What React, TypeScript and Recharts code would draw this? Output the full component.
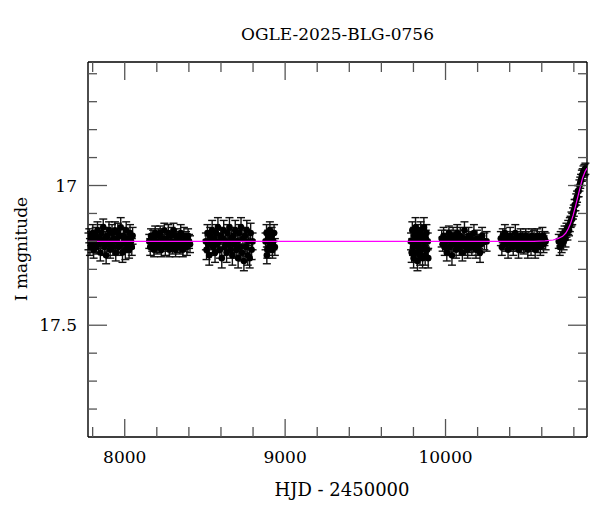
import React from "react";
import { ComposedChart, Scatter, XAxis, YAxis, ErrorBar } from "recharts";

const FONT = "'DejaVu Serif', 'Liberation Serif', serif";

// [HJD-2450000, I mag, error] per observing season
const season1 = [
  [7774, 17.2, 0.03], [7779, 17.18, 0.025], [7783, 17.22, 0.03], [7790, 17.19, 0.025], [7794, 17.21, 0.03],
  [7801, 17.17, 0.03], [7806, 17.23, 0.03], [7812, 17.2, 0.025], [7819, 17.18, 0.03], [7823, 17.22, 0.025],
  [7830, 17.16, 0.03], [7837, 17.21, 0.03], [7841, 17.19, 0.025], [7848, 17.24, 0.03], [7855, 17.17, 0.03],
  [7860, 17.2, 0.025], [7866, 17.15, 0.03], [7873, 17.22, 0.03], [7879, 17.19, 0.025], [7884, 17.25, 0.03],
  [7891, 17.18, 0.03], [7897, 17.21, 0.025], [7902, 17.16, 0.03], [7909, 17.23, 0.03], [7915, 17.2, 0.025],
  [7921, 17.17, 0.03], [7926, 17.22, 0.03], [7933, 17.19, 0.025], [7939, 17.16, 0.03], [7944, 17.24, 0.03],
  [7950, 17.2, 0.025], [7957, 17.17, 0.035], [7962, 17.22, 0.03], [7968, 17.18, 0.025], [7975, 17.15, 0.035],
  [7980, 17.21, 0.03], [7986, 17.24, 0.035], [7991, 17.18, 0.03], [7998, 17.2, 0.025], [8004, 17.23, 0.035],
  [8009, 17.16, 0.03], [8015, 17.21, 0.03], [8021, 17.19, 0.025], [8027, 17.23, 0.03], [8033, 17.17, 0.03],
  [8039, 17.2, 0.025], [8044, 17.22, 0.03], [8049, 17.18, 0.03],
];

const season2 = [
  [8153, 17.2, 0.025], [8159, 17.22, 0.03], [8164, 17.18, 0.025], [8171, 17.21, 0.025], [8177, 17.19, 0.03],
  [8183, 17.23, 0.025], [8190, 17.17, 0.025], [8196, 17.2, 0.03], [8202, 17.22, 0.025], [8209, 17.18, 0.025],
  [8215, 17.21, 0.03], [8221, 17.17, 0.025], [8228, 17.23, 0.025], [8234, 17.19, 0.03], [8240, 17.2, 0.025],
  [8247, 17.16, 0.025], [8253, 17.22, 0.03], [8259, 17.19, 0.025], [8266, 17.21, 0.025], [8272, 17.17, 0.03],
  [8279, 17.23, 0.025], [8285, 17.2, 0.025], [8291, 17.18, 0.03], [8298, 17.22, 0.025], [8304, 17.16, 0.025],
  [8311, 17.2, 0.03], [8317, 17.23, 0.025], [8323, 17.18, 0.025], [8330, 17.21, 0.03], [8336, 17.19, 0.025],
  [8343, 17.22, 0.025], [8349, 17.17, 0.03], [8356, 17.2, 0.025], [8362, 17.23, 0.025], [8369, 17.18, 0.03],
  [8375, 17.21, 0.025], [8382, 17.19, 0.025], [8388, 17.22, 0.03], [8395, 17.18, 0.025], [8401, 17.2, 0.025],
  [8407, 17.21, 0.03],
];

const season3 = [
  [8506, 17.2, 0.03], [8510, 17.23, 0.035], [8516, 17.17, 0.03], [8522, 17.21, 0.03], [8527, 17.25, 0.035],
  [8533, 17.18, 0.03], [8539, 17.2, 0.03], [8545, 17.16, 0.035], [8551, 17.22, 0.03], [8557, 17.19, 0.03],
  [8563, 17.24, 0.035], [8569, 17.17, 0.03], [8575, 17.21, 0.03], [8581, 17.15, 0.035], [8587, 17.2, 0.03],
  [8593, 17.23, 0.03], [8599, 17.18, 0.03], [8605, 17.26, 0.035], [8611, 17.19, 0.03], [8617, 17.16, 0.035],
  [8623, 17.22, 0.03], [8629, 17.2, 0.03], [8635, 17.24, 0.035], [8641, 17.17, 0.03], [8647, 17.21, 0.03],
  [8653, 17.15, 0.035], [8659, 17.23, 0.03], [8665, 17.19, 0.03], [8671, 17.25, 0.035], [8677, 17.18, 0.03],
  [8683, 17.21, 0.03], [8689, 17.16, 0.035], [8695, 17.23, 0.03], [8701, 17.2, 0.03], [8707, 17.26, 0.035],
  [8713, 17.17, 0.03], [8719, 17.22, 0.03], [8725, 17.15, 0.035], [8731, 17.24, 0.03], [8737, 17.19, 0.03],
  [8743, 17.27, 0.035], [8749, 17.18, 0.03], [8755, 17.22, 0.035], [8761, 17.16, 0.035], [8767, 17.25, 0.035],
  [8773, 17.2, 0.03], [8779, 17.26, 0.035], [8785, 17.17, 0.035], [8791, 17.23, 0.035], [8797, 17.2, 0.03],
];

const season4 = [
  [8878, 17.2, 0.03], [8884, 17.17, 0.03], [8886, 17.25, 0.03], [8889, 17.23, 0.03], [8895, 17.19, 0.03],
  [8900, 17.22, 0.03], [8905, 17.16, 0.03], [8911, 17.21, 0.03], [8916, 17.18, 0.03], [8921, 17.23, 0.03],
  [8926, 17.2, 0.03], [8931, 17.17, 0.03], [8936, 17.22, 0.03],
];

const season5 = [
  [9785, 17.2, 0.03], [9789, 17.24, 0.035], [9793, 17.16, 0.03], [9797, 17.22, 0.03], [9801, 17.26, 0.035],
  [9805, 17.18, 0.03], [9809, 17.21, 0.03], [9813, 17.15, 0.035], [9817, 17.24, 0.03], [9821, 17.19, 0.03],
  [9825, 17.27, 0.035], [9829, 17.17, 0.03], [9833, 17.22, 0.03], [9837, 17.2, 0.03], [9841, 17.25, 0.035],
  [9845, 17.16, 0.03], [9849, 17.23, 0.03], [9853, 17.18, 0.03], [9857, 17.26, 0.035], [9861, 17.2, 0.03],
  [9865, 17.15, 0.035], [9869, 17.22, 0.03], [9873, 17.25, 0.035], [9877, 17.19, 0.03], [9881, 17.17, 0.03],
  [9885, 17.23, 0.03], [9889, 17.2, 0.03], [9892, 17.26, 0.035],
];

const season6 = [
  [9976, 17.19, 0.03], [9982, 17.21, 0.025], [9988, 17.18, 0.03], [9995, 17.22, 0.03], [10001, 17.2, 0.025],
  [10008, 17.24, 0.03], [10014, 17.19, 0.03], [10021, 17.17, 0.025], [10027, 17.22, 0.03], [10034, 17.2, 0.03],
  [10040, 17.25, 0.035], [10047, 17.18, 0.03], [10053, 17.21, 0.025], [10060, 17.19, 0.03], [10066, 17.23, 0.03],
  [10073, 17.17, 0.03], [10079, 17.2, 0.025], [10086, 17.22, 0.03], [10092, 17.18, 0.03], [10099, 17.21, 0.025],
  [10105, 17.24, 0.03], [10112, 17.19, 0.03], [10118, 17.16, 0.03], [10125, 17.22, 0.03], [10131, 17.2, 0.025],
  [10138, 17.23, 0.03], [10144, 17.18, 0.03], [10151, 17.21, 0.03], [10157, 17.19, 0.025], [10164, 17.22, 0.03],
  [10170, 17.2, 0.03], [10177, 17.17, 0.03], [10183, 17.21, 0.025], [10190, 17.23, 0.03], [10196, 17.19, 0.03],
  [10203, 17.22, 0.03], [10209, 17.2, 0.025], [10215, 17.24, 0.035], [10222, 17.21, 0.03], [10228, 17.18, 0.03],
  [10242, 17.2, 0.03], [10256, 17.2, 0.035],
];

const season7 = [
  [10345, 17.19, 0.025], [10351, 17.22, 0.03], [10357, 17.18, 0.025], [10364, 17.2, 0.03], [10370, 17.17, 0.03],
  [10377, 17.21, 0.025], [10383, 17.19, 0.025], [10390, 17.23, 0.03], [10396, 17.2, 0.025], [10403, 17.18, 0.03],
  [10409, 17.21, 0.025], [10416, 17.19, 0.025], [10422, 17.22, 0.03], [10429, 17.2, 0.025], [10435, 17.17, 0.03],
  [10442, 17.21, 0.025], [10448, 17.19, 0.025], [10455, 17.23, 0.03], [10461, 17.2, 0.025], [10468, 17.18, 0.025],
  [10474, 17.21, 0.03], [10481, 17.19, 0.025], [10487, 17.22, 0.025], [10494, 17.2, 0.03], [10500, 17.18, 0.025],
  [10507, 17.21, 0.025], [10513, 17.23, 0.03], [10520, 17.19, 0.025], [10526, 17.2, 0.025], [10533, 17.22, 0.03],
  [10539, 17.18, 0.025], [10546, 17.21, 0.025], [10552, 17.19, 0.03], [10559, 17.23, 0.03], [10565, 17.2, 0.025],
  [10572, 17.18, 0.025], [10578, 17.21, 0.03], [10585, 17.19, 0.025], [10591, 17.22, 0.03], [10598, 17.2, 0.025],
  [10604, 17.18, 0.03], [10611, 17.21, 0.03], [10617, 17.19, 0.025], [10624, 17.2, 0.03],
];

const season8 = [
  [10706, 17.2, 0.025], [10712, 17.22, 0.03], [10718, 17.19, 0.025], [10724, 17.21, 0.03], [10730, 17.18, 0.025],
  [10736, 17.2, 0.03], [10742, 17.17, 0.025], [10748, 17.19, 0.03], [10754, 17.16, 0.025], [10760, 17.17, 0.025],
  [10765, 17.15, 0.025], [10770, 17.16, 0.02], [10775, 17.14, 0.025], [10780, 17.13, 0.02], [10785, 17.12, 0.025],
  [10790, 17.12, 0.02], [10795, 17.1, 0.02], [10800, 17.09, 0.02], [10805, 17.07, 0.02], [10810, 17.07, 0.02],
  [10815, 17.05, 0.02], [10820, 17.04, 0.02], [10825, 17.02, 0.02], [10830, 17.02, 0.02], [10835, 17.0, 0.02],
  [10840, 16.99, 0.02], [10845, 16.98, 0.02], [10850, 16.965, 0.02], [10855, 16.96, 0.02], [10860, 16.95, 0.02],
  [10866, 16.945, 0.02], [10872, 16.94, 0.02],
];

// microlensing model curve [HJD-2450000, I mag]
const model = [
  [7771, 17.2], [10550, 17.2], [10620, 17.198], [10670, 17.195], [10700, 17.19], [10730, 17.182],
  [10750, 17.17], [10765, 17.155], [10780, 17.135], [10795, 17.108], [10810, 17.075], [10825, 17.04],
  [10840, 17.005], [10855, 16.972], [10870, 16.95], [10882, 16.938],
];

const xTicks = [7800, 8000, 8200, 8400, 8600, 8800, 9000, 9200, 9400, 9600, 9800, 10000, 10200, 10400, 10600, 10800];
const xLabels = [8000, 9000, 10000];
const yTicks = [16.6, 16.7, 16.8, 16.9, 17, 17.1, 17.2, 17.3, 17.4, 17.5, 17.6, 17.7, 17.8];
const yLabels = [17, 17.5];

const points = [season1, season2, season3, season4, season5, season6, season7, season8]
  .flat()
  .map(([t, mag, err]) => ({ t, mag, err }));
const modelData = model.map(([t, mag]) => ({ t, mag }));

const TICK = "#555";
const isX = (v: number) => xLabels.includes(v);
const isY = (v: number) => yLabels.some((l) => Math.abs(l - v) < 1e-6);

const BottomTick = ({ x, y, payload }: any) => {
  const major = isX(payload.value);
  return (
    <g>
      <line x1={x} x2={x} y1={y} y2={y - (major ? 18 : 10)} stroke={TICK} strokeWidth={1.3} />
      {major && (
        <text x={x} y={y + 26} textAnchor="middle" fontFamily={FONT} fontSize={17} fill="#000">
          {payload.value}
        </text>
      )}
    </g>
  );
};

const TopTick = ({ x, y, payload }: any) => {
  const major = isX(payload.value);
  return <line x1={x} x2={x} y1={y} y2={y + (major ? 18 : 10)} stroke={TICK} strokeWidth={1.3} />;
};

const LeftTick = ({ x, y, payload }: any) => {
  const major = isY(payload.value);
  return (
    <g>
      <line x1={x} x2={x + (major ? 19 : 9)} y1={y} y2={y} stroke={TICK} strokeWidth={1.3} />
      {major && (
        <text x={x - 11} y={y + 6} textAnchor="end" fontFamily={FONT} fontSize={17} fill="#000">
          {payload.value}
        </text>
      )}
    </g>
  );
};

const RightTick = ({ x, y, payload }: any) => {
  const major = isY(payload.value);
  return <line x1={x} x2={x - (major ? 19 : 9)} y1={y} y2={y} stroke={TICK} strokeWidth={1.3} />;
};

const Dot = (p: any) => <circle cx={p.cx} cy={p.cy} r={3.3} fill="#000" />;
const NoDot = () => <g />;

const frame = { stroke: "#000", strokeWidth: 1.4 };

export default function App() {
  return (
    <div style={{ position: "absolute", left: 0, top: 0, width: 600, height: 512, background: "#fff" }}>
      <ComposedChart width={600} height={512} margin={{ top: 52, right: 3, bottom: 65, left: 78 }}>
        <XAxis xAxisId="b" dataKey="t" type="number" domain={[7771, 10882]} allowDataOverflow
          ticks={xTicks} interval={0} orientation="bottom" height={10} tickSize={0} tickMargin={0}
          tickLine={false} axisLine={frame} tick={<BottomTick />} />
        <XAxis xAxisId="t" dataKey="t" type="number" domain={[7771, 10882]} allowDataOverflow
          ticks={xTicks} interval={0} orientation="top" height={10} tickSize={0} tickMargin={0}
          tickLine={false} axisLine={frame} tick={<TopTick />} />
        <YAxis yAxisId="l" dataKey="mag" type="number" domain={[16.558, 17.9]} allowDataOverflow reversed
          ticks={yTicks} interval={0} orientation="left" width={10} tickSize={0} tickMargin={0}
          tickLine={false} axisLine={frame} tick={<LeftTick />} />
        <YAxis yAxisId="r" dataKey="mag" type="number" domain={[16.558, 17.9]} allowDataOverflow reversed
          ticks={yTicks} interval={0} orientation="right" width={10} tickSize={0} tickMargin={0}
          tickLine={false} axisLine={frame} tick={<RightTick />} />
        <Scatter xAxisId="b" yAxisId="l" data={points} dataKey="mag" shape={<Dot />} isAnimationActive={false}>
          <ErrorBar dataKey="err" direction="y" width={4} stroke="#111" strokeWidth={1.4} isAnimationActive={false} />
        </Scatter>
        <Scatter xAxisId="b" yAxisId="l" data={modelData} dataKey="mag" shape={<NoDot />}
          line={{ stroke: "#ff00ff", strokeWidth: 1.2 }} isAnimationActive={false} />
      </ComposedChart>
      <svg width={600} height={512} style={{ position: "absolute", left: 0, top: 0, pointerEvents: "none" }}>
        <text x={337.5} y={40} textAnchor="middle" fontFamily={FONT} fontSize={17} fill="#000">
          OGLE-2025-BLG-0756
        </text>
        <text x={342} y={496} textAnchor="middle" fontFamily={FONT} fontSize={18} fill="#000">
          HJD - 2450000
        </text>
        <text x={27} y={249} textAnchor="middle" fontFamily={FONT} fontSize={17} fill="#000"
          transform="rotate(-90 27 249)">
          I magnitude
        </text>
      </svg>
    </div>
  );
}
